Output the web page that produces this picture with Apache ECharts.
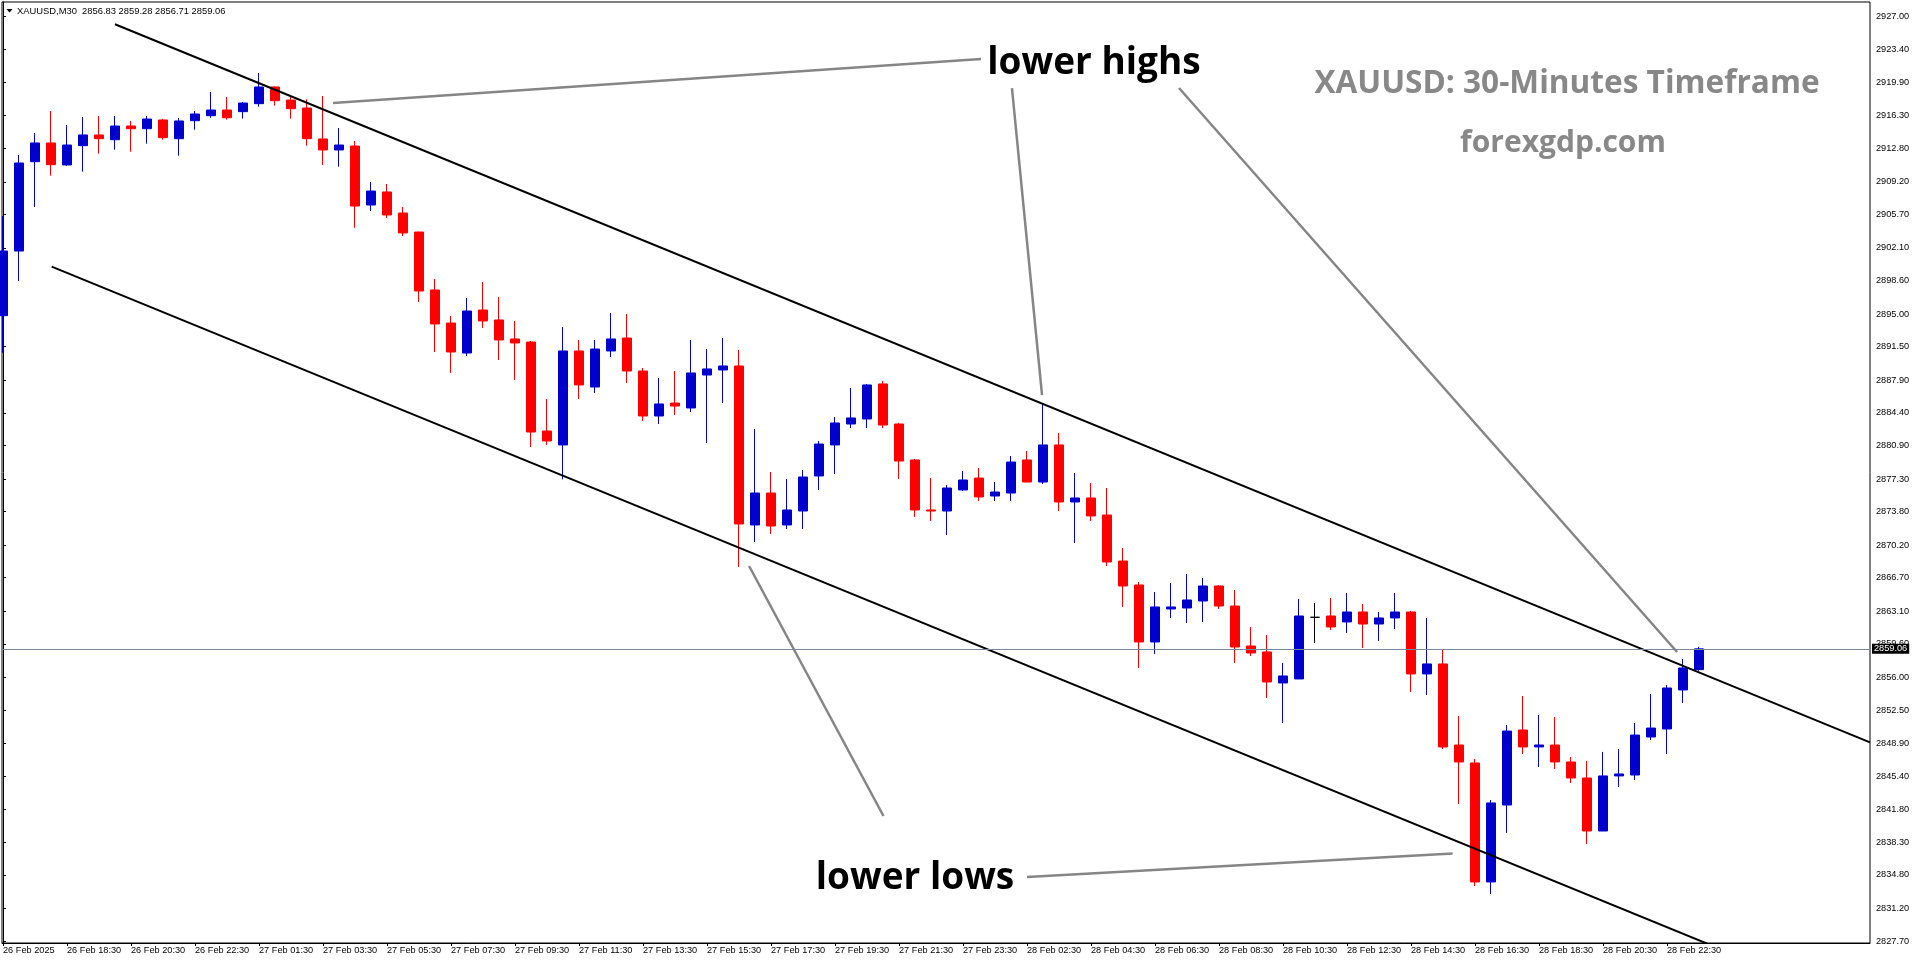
<!DOCTYPE html>
<html>
<head>
<meta charset="utf-8">
<script src="https://cdn.jsdelivr.net/npm/echarts@6/dist/echarts.min.js"></script>
<style>
html,body{margin:0;padding:0;background:#fff;}
#chart{width:1916px;height:964px;}
</style>
</head>
<body>
<div id="chart"></div>
<script>
// ---- data ----
const timeLabels = [
  '26 Feb 2025','26 Feb 18:30','26 Feb 20:30','26 Feb 22:30','27 Feb 01:30','27 Feb 03:30',
  '27 Feb 05:30','27 Feb 07:30','27 Feb 09:30','27 Feb 11:30','27 Feb 13:30','27 Feb 15:30',
  '27 Feb 17:30','27 Feb 19:30','27 Feb 21:30','27 Feb 23:30','28 Feb 02:30','28 Feb 04:30',
  '28 Feb 06:30','28 Feb 08:30','28 Feb 10:30','28 Feb 12:30','28 Feb 14:30','28 Feb 16:30',
  '28 Feb 18:30','28 Feb 20:30','28 Feb 22:30'
];
const barsPerTimeLabel = 4;
const priceTicks = [
  2927.00,2923.40,2919.90,2916.30,2912.80,2909.20,2905.70,2902.10,2898.60,2895.00,
  2891.50,2887.90,2884.40,2880.90,2877.30,2873.80,2870.20,2866.70,2863.10,2859.60,
  2856.00,2852.50,2848.90,2845.40,2841.80,2838.30,2834.80,2831.20,2827.70
];
const opens = [
  2894.83,2901.77,2911.36,2913.37,2911.01,2913.08,2914.23,2913.72,2915.19,2914.90,
  2915.84,2913.83,2915.76,2916.30,2916.91,2916.73,2917.59,2919.38,2917.98,2917.12,
  2913.80,2912.62,2913.04,2906.71,2908.11,2905.85,2903.81,2897.59,2894.04,2890.82,
  2895.44,2894.37,2892.33,2892.00,2882.45,2880.95,2891.04,2887.17,2891.04,2892.43,
  2888.89,2884.06,2885.45,2884.92,2888.46,2889.00,2889.43,2872.36,2875.79,2872.36,
  2873.86,2877.62,2880.95,2883.20,2883.74,2887.50,2883.20,2879.34,2873.97,2873.86,
  2876.12,2877.40,2875.47,2875.79,2879.34,2876.97,2880.95,2874.83,2875.26,2873.43,
  2868.49,2865.92,2859.80,2863.34,2863.45,2864.20,2865.81,2863.66,2859.37,2858.73,
  2855.40,2855.83,2862.45,2862.59,2861.95,2863.02,2861.73,2862.38,2863.02,2856.37,
  2857.44,2848.74,2846.81,2834.04,2842.30,2850.35,2848.53,2848.74,2846.92,2845.20,
  2839.51,2845.42,2845.52,2849.60,2850.46,2854.65,2856.83
];
const highs = [
  2905.53,2912.08,2914.44,2916.80,2915.30,2916.16,2916.27,2916.27,2915.73,2916.27,
  2915.94,2916.05,2916.80,2918.84,2918.30,2917.77,2920.88,2919.45,2918.34,2918.06,
  2918.41,2914.98,2913.58,2909.18,2908.97,2906.50,2903.85,2898.77,2894.80,2896.73,
  2898.44,2896.83,2894.26,2892.11,2885.88,2893.61,2892.22,2892.22,2895.12,2895.01,
  2889.21,2888.14,2888.89,2892.22,2891.25,2892.43,2891.15,2882.66,2878.05,2877.30,
  2878.26,2881.38,2883.95,2887.07,2887.50,2887.82,2883.30,2879.44,2877.40,2876.65,
  2878.16,2878.48,2876.97,2879.77,2880.30,2885.35,2882.23,2877.94,2876.87,2876.33,
  2869.89,2866.24,2865.17,2866.13,2867.10,2866.67,2865.90,2865.38,2861.41,2860.55,
  2857.55,2864.42,2863.98,2864.52,2865.06,2863.88,2863.02,2865.06,2863.13,2862.38,
  2859.05,2851.85,2847.24,2842.84,2850.89,2854.00,2851.96,2851.75,2847.45,2847.02,
  2848.00,2848.31,2851.10,2854.22,2855.18,2857.97,2859.28
];
const lows = [
  2890.86,2898.55,2906.50,2909.86,2910.93,2910.29,2912.22,2912.65,2912.43,2913.29,
  2913.72,2912.00,2914.79,2916.08,2915.87,2915.98,2917.26,2917.37,2915.98,2913.08,
  2911.01,2910.82,2904.27,2906.07,2905.32,2903.38,2896.30,2890.93,2888.68,2890.50,
  2893.51,2890.07,2887.93,2880.73,2880.95,2877.26,2885.88,2886.53,2890.39,2887.60,
  2883.52,2883.20,2884.17,2884.49,2881.16,2885.45,2867.85,2870.53,2871.39,2871.93,
  2871.93,2876.12,2877.83,2882.77,2882.77,2882.77,2877.30,2873.22,2872.79,2871.28,
  2876.01,2874.94,2874.94,2874.94,2876.97,2876.76,2873.86,2870.43,2872.79,2867.96,
  2863.56,2857.01,2858.51,2862.38,2861.84,2861.95,2863.34,2857.55,2858.30,2853.79,
  2851.10,2855.83,2859.69,2861.08,2860.77,2859.16,2859.91,2861.19,2854.43,2854.11,
  2848.31,2842.41,2833.60,2832.75,2839.30,2847.77,2846.38,2846.17,2844.66,2838.12,
  2839.51,2844.23,2844.98,2849.28,2847.77,2853.25,2856.71
];
const closes = [
  2901.77,2911.22,2913.37,2911.04,2913.15,2914.23,2913.83,2915.19,2914.90,2915.94,
  2913.94,2915.73,2916.48,2916.91,2916.08,2917.66,2919.38,2917.91,2917.05,2913.83,
  2912.62,2913.15,2906.60,2908.21,2905.64,2903.71,2897.48,2893.94,2890.93,2895.33,
  2894.26,2892.22,2891.90,2882.34,2881.38,2891.04,2887.39,2891.25,2892.33,2888.89,
  2884.06,2885.35,2885.13,2888.68,2889.11,2889.43,2872.47,2875.79,2872.25,2873.97,
  2877.51,2881.05,2883.31,2883.85,2887.39,2883.09,2879.23,2873.97,2873.86,2876.33,
  2877.19,2875.37,2875.90,2879.12,2876.97,2880.95,2874.83,2875.26,2873.33,2868.39,
  2865.81,2859.80,2863.56,2863.56,2864.31,2865.81,2863.66,2859.26,2858.62,2855.51,
  2856.15,2862.59,2862.45,2861.41,2863.02,2861.73,2862.38,2863.02,2856.37,2857.44,
  2848.53,2846.92,2834.04,2842.52,2850.24,2848.53,2848.74,2846.92,2845.20,2839.51,
  2845.42,2845.63,2849.81,2850.56,2854.86,2857.01,2859.06
];
const currentPrice = 2859.06;
const headerText = 'XAUUSD,M30  2856.83 2859.28 2856.71 2859.06';
// channel lines: [barIndex, price]
const upperChannel = [[7.0, 2926.11], [116.6875, 2849.02]];
const lowerChannel = [[3.044, 2900.09], [116.6875, 2820.27]];
// grey pointer lines: [barIndex, price] pairs
const pointerLines = [
  [[20.625, 2917.66], [61.125, 2922.38]],
  [[63.06, 2919.27], [64.94, 2886.31]],
  [[73.5, 2919.27], [104.63, 2858.72]],
  [[55.03, 2841.12], [46.63, 2867.96]],
  [[64.0, 2834.57], [90.6, 2837.09]]
];
const xMin = -0.0625, xMax = 116.6875;
const yMin = 2827.485, yMax = 2928.503;

// ---- chart ----
const chart = echarts.init(document.getElementById('chart'), null, {renderer: 'canvas'});
const labelFont = 'Liberation Sans';
const tickIdx = timeLabels.map((_, k) => k * barsPerTimeLabel);

const candleData = opens.map((o, i) => {
  const item = {value: [i, o, closes[i], lows[i], highs[i]]};
  if (o === closes[i]) {
    item.itemStyle = {color: '#000', color0: '#000', borderColor: '#000', borderColor0: '#000'};
  }
  return item;
});

const series = [
  {
    type: 'candlestick',
    dimensions: ['idx', 'open', 'close', 'lowest', 'highest'],
    encode: {x: 0, y: [1, 2, 3, 4]},
    data: candleData,
    barWidth: 10,
    clip: true,
    z: 2,
    itemStyle: {
      color: '#0000CD', color0: '#FF0000',
      borderColor: '#0000CD', borderColor0: '#FF0000',
      borderColorDoji: '#000', borderWidth: 1
    },
    markLine: {
      silent: true,
      symbol: ['none', 'none'],
      animation: false,
      data: [{yAxis: currentPrice}],
      lineStyle: {color: '#778899', width: 1, type: 'solid'},
      label: {
        show: true, position: 'end', distance: 2,
        formatter: () => currentPrice.toFixed(2),
        backgroundColor: '#000', color: '#fff',
        fontSize: 9.2, fontFamily: labelFont, padding: [1, 2, 0, 2]
      },
      emphasis: {disabled: true}
    }
  },
  {
    type: 'line', data: upperChannel, symbol: 'none', silent: true, z: 3,
    lineStyle: {color: '#000', width: 2}
  },
  {
    type: 'line', data: lowerChannel, symbol: 'none', silent: true, z: 3,
    lineStyle: {color: '#000', width: 2}
  }
];
pointerLines.forEach(seg => {
  series.push({
    type: 'line', data: seg, symbol: 'none', silent: true, z: 4,
    lineStyle: {color: '#858585', width: 2.5}
  });
});

const option = {
  animation: false,
  backgroundColor: '#fff',
  grid: {left: 2, right: 46, top: 2, bottom: 21, show: true, borderColor: '#000', borderWidth: 1, backgroundColor: '#fff'},
  xAxis: {
    type: 'value', min: xMin, max: xMax,
    splitLine: {show: false},
    axisLine: {show: true, lineStyle: {color: '#000', width: 1}},
    axisTick: {show: true, customValues: tickIdx, length: 3, lineStyle: {color: '#000'}},
    axisLabel: {
      customValues: tickIdx,
      formatter: v => timeLabels[Math.round(v / barsPerTimeLabel)] || '',
      align: 'left', margin: 3, color: '#000', fontSize: 9.2, fontFamily: labelFont
    }
  },
  yAxis: {
    type: 'value', position: 'right', min: yMin, max: yMax,
    splitLine: {show: false},
    axisLine: {show: true, lineStyle: {color: '#000', width: 1}},
    axisTick: {show: true, customValues: priceTicks, length: 3, lineStyle: {color: '#000'}},
    axisLabel: {
      customValues: priceTicks,
      formatter: v => Number(v).toFixed(2),
      margin: 6, color: '#000', fontSize: 9.2, fontFamily: labelFont
    }
  },
  series: series,
  graphic: [
    {type: 'polygon', shape: {points: [[6.5, 9], [12.5, 9], [9.5, 12.5]]}, style: {fill: '#000'}, z: 10},
    {type: 'text', x: 17, y: 11, z: 10, style: {text: headerText, fill: '#000', fontSize: 9.4, fontFamily: labelFont, verticalAlign: 'middle', align: 'left'}},
    {type: 'text', x: 1094, y: 63, z: 10, style: {text: 'lower highs', fill: '#000', fontSize: 37, fontWeight: 'bold', fontFamily: 'Open Sans', align: 'center', verticalAlign: 'middle'}},
    {type: 'text', x: 915, y: 878, z: 10, style: {text: 'lower lows', fill: '#000', fontSize: 37, fontWeight: 'bold', fontFamily: 'Open Sans', align: 'center', verticalAlign: 'middle'}},
    {type: 'text', x: 1567, y: 84, z: 10, style: {text: 'XAUUSD: 30-Minutes Timeframe', fill: '#888', fontSize: 31.6, fontWeight: 'bold', fontFamily: 'Open Sans', align: 'center', verticalAlign: 'middle'}},
    {type: 'text', x: 1563, y: 143, z: 10, style: {text: 'forexgdp.com', fill: '#888', fontSize: 30, fontWeight: 'bold', fontFamily: 'Open Sans', align: 'center', verticalAlign: 'middle'}}
  ]
};
chart.setOption(option);
</script>
</body>
</html>
